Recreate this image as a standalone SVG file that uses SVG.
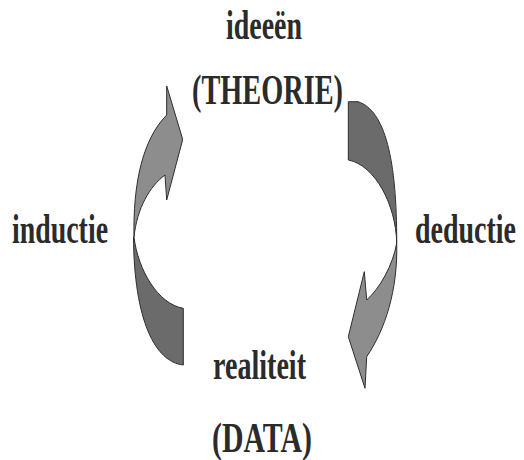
<svg xmlns="http://www.w3.org/2000/svg" width="524" height="460" viewBox="0 0 524 460">
<style>
.lbl{font-family:"Liberation Serif","Times New Roman",serif;font-weight:bold;font-size:43px;fill:#2b2b2b}
.light{fill:#8d8d8d;stroke:#2e2e2e;stroke-width:1;stroke-linejoin:round}
.dark{fill:#6b6b6b;stroke:#2e2e2e;stroke-width:1;stroke-linejoin:round}
</style>
<rect width="524" height="460" fill="#fff"/>
<g id="connectors">
<g id="inductie-arrow">
<path class="dark" d="M134,237 C138,270 158,304 183.3,308.3 L183.3,365 C155,362 134,320 133.5,237 Z"/>
<path class="light" d="M166.7,86 L182.3,138 L182.3,141 L166.7,200 L165,175 C150,186 137,208 134,237 C133,185 142,140 166.7,115 Z"/>
</g>
<g id="deductie-arrow">
<path class="dark" d="M348.3,101.7 L358,101.7 C385,110 397,160 396.7,243 C396,205 375,165 348.3,160 Z"/>
<path class="light" d="M396.7,243 C398,290 385,330 366.7,356.7 L365,388.3 L348.3,336.7 L364.3,271.7 L366.7,300 C380,288 393,265 396.7,243 Z"/>
</g>
</g>
<g id="theorie">
<text class="lbl" transform="translate(226,39) scale(0.65,1)" textLength="116.9" lengthAdjust="spacingAndGlyphs">ideeën</text>
<text class="lbl" transform="translate(192,104) scale(0.65,1)" textLength="232.3" lengthAdjust="spacingAndGlyphs">(THEORIE)</text>
</g>
<g id="inductie">
<text class="lbl" transform="translate(12,243) scale(0.65,1)" textLength="147.7" lengthAdjust="spacingAndGlyphs">inductie</text>
</g>
<g id="deductie">
<text class="lbl" transform="translate(415,243) scale(0.65,1)" textLength="155.4" lengthAdjust="spacingAndGlyphs">deductie</text>
</g>
<g id="data">
<text class="lbl" transform="translate(213,379) scale(0.65,1)" textLength="143.1" lengthAdjust="spacingAndGlyphs">realiteit</text>
<text class="lbl" transform="translate(212,452) scale(0.65,1)" textLength="153.8" lengthAdjust="spacingAndGlyphs">(DATA)</text>
</g>
</svg>
